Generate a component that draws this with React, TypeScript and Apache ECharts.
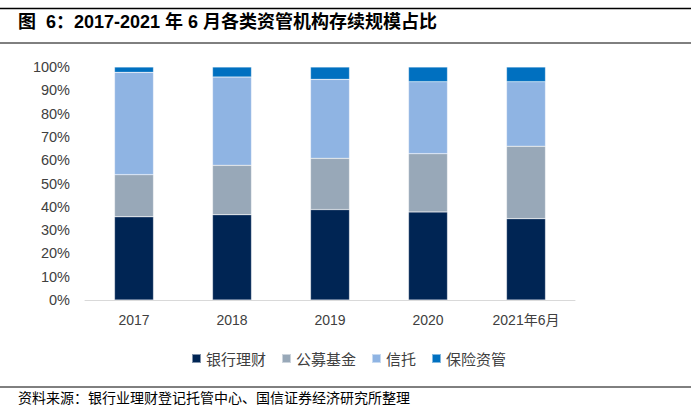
import React, { useEffect, useRef } from "react";
import * as echarts from "echarts";

const categories = ["2017", "2018", "2019", "2020", "2021年6月"];
const bankWM = [35.7, 36.6, 38.8, 37.8, 34.9];
const mutualFund = [18.1, 21.2, 22.0, 25.0, 31.1];
const trust = [43.9, 37.9, 33.9, 30.9, 27.7];
const insuranceAM = [2.3, 4.3, 5.3, 6.3, 6.3];
const yTicks = ["0%", "10%", "20%", "30%", "40%", "50%", "60%", "70%", "80%", "90%", "100%"];

const seriesNames = ["银行理财", "公募基金", "信托", "保险资管"];
const seriesColors = ["#002554", "#98A8B8", "#8FB4E3", "#0070C0"];
const seriesData = [bankWM, mutualFund, trust, insuranceAM];

export default function App() {
  const ref = useRef<HTMLDivElement>(null);
  useEffect(() => {
    if (!ref.current) return;
    const chart = echarts.init(ref.current, null, { renderer: "svg" });
    chart.setOption({
      animation: false,
      backgroundColor: "#ffffff",
      grid: { left: 85, top: 67, width: 490, height: 233 },
      legend: {
        data: seriesNames,
        left: 186,
        top: 346,
        itemWidth: 9,
        itemHeight: 9,
        itemGap: 15,
        icon: "rect",
        textStyle: { fontSize: 15, color: "#404040", fontFamily: "Noto Sans CJK SC" },
      },
      xAxis: {
        type: "category",
        data: categories,
        axisLine: { lineStyle: { color: "#d9d9d9", width: 1 } },
        axisTick: { show: false },
        axisLabel: { fontSize: 14, color: "#404040", margin: 13, fontFamily: "Liberation Sans, Noto Sans CJK SC" },
      },
      yAxis: {
        type: "value",
        min: 0,
        max: 100,
        interval: 10,
        axisLine: { show: false },
        axisTick: { show: false },
        splitLine: { show: false },
        axisLabel: {
          fontSize: 14.5,
          color: "#404040",
          margin: 15,
          fontFamily: "Liberation Sans",
          formatter: (v: number) => yTicks[Math.round(v / 10)],
        },
      },
      series: seriesNames.map((name, i) => ({
        name,
        type: "bar",
        stack: "total",
        barWidth: 39,
        data: seriesData[i],
        itemStyle: { color: seriesColors[i], borderColor: "rgba(255,255,255,0.5)", borderWidth: 0.5 },
      })),
      graphic: [
        { type: "line", shape: { x1: 0, y1: 8.5, x2: 691, y2: 8.5 }, style: { stroke: "#000", lineWidth: 1.5 } },
        {
          type: "text",
          left: 18,
          top: 13,
          style: {
            text: "图\u00a0\u00a06：2017-2021 年 6 月各类资管机构存续规模占比",
            fontSize: 18,
            fontWeight: "bold",
            fill: "#000",
            fontFamily: "Liberation Sans, Noto Sans CJK SC",
          },
        },
        { type: "line", shape: { x1: 0, y1: 43, x2: 691, y2: 43 }, style: { stroke: "#000", lineWidth: 1 } },
        { type: "line", shape: { x1: 0, y1: 387, x2: 691, y2: 387 }, style: { stroke: "#000", lineWidth: 1 } },
        {
          type: "text",
          left: 18,
          top: 390,
          style: {
            text: "资料来源：银行业理财登记托管中心、国信证券经济研究所整理",
            fontSize: 14,
            fill: "#000",
            fontFamily: "Noto Sans CJK SC",
          },
        },
      ],
    });
    return () => chart.dispose();
  }, []);
  return (
    <div
      ref={ref}
      style={{ position: "fixed", left: 0, top: 0, width: 691, height: 413 }}
    />
  );
}
